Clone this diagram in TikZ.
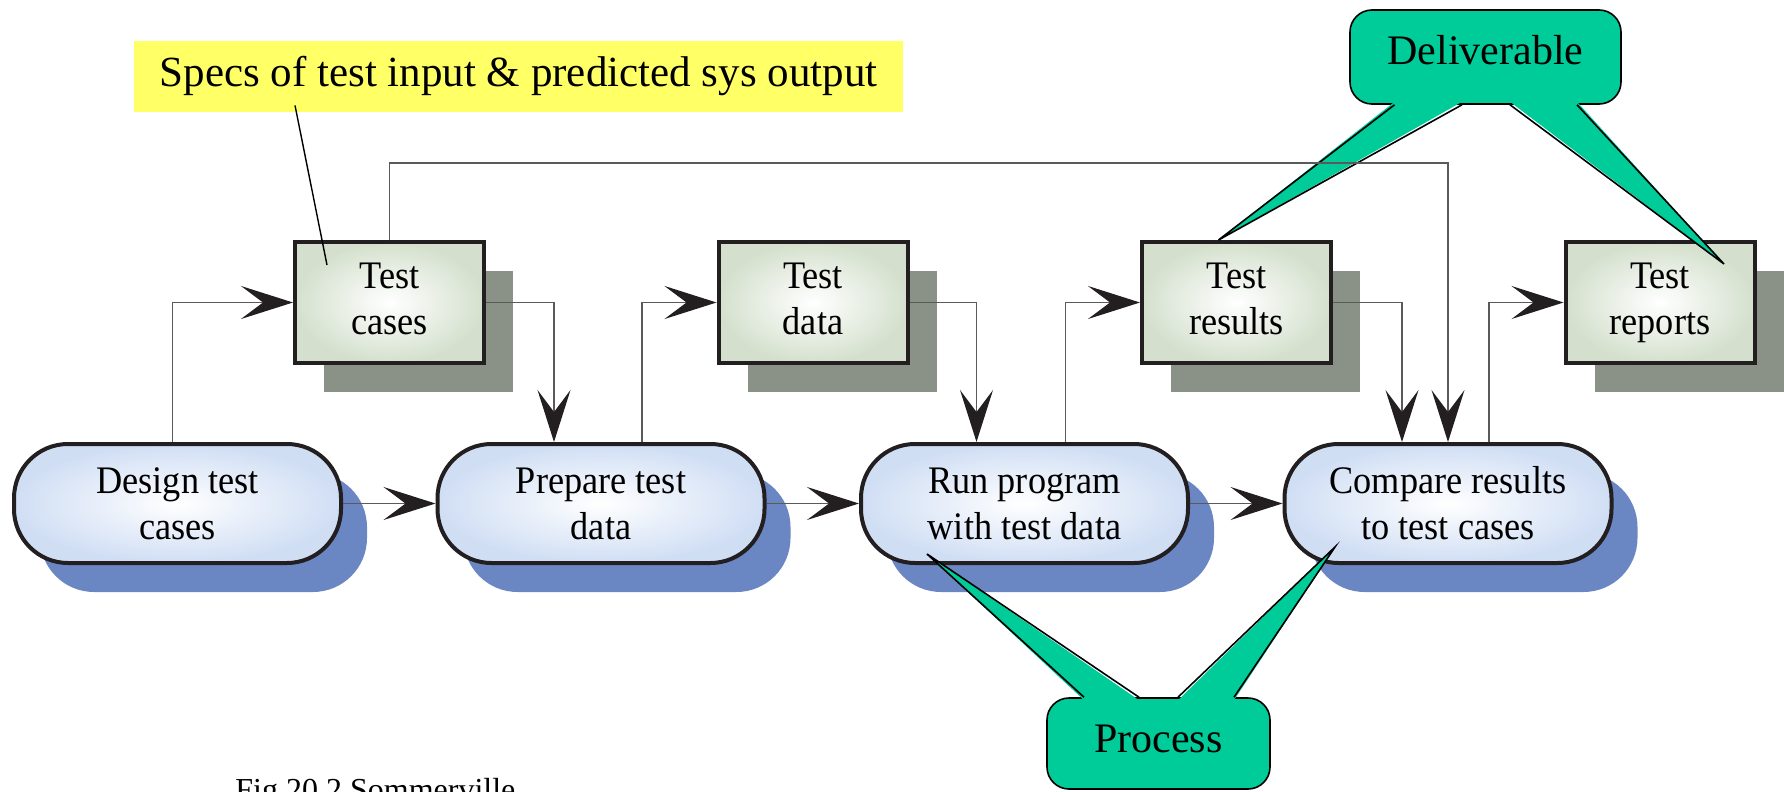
\documentclass[tikz,border=0pt]{standalone}
\usepackage{fontspec}
\setmainfont{Liberation Serif}
\newfontfamily\narrowserif[FakeStretch=0.93]{Liberation Serif}
\usetikzlibrary{arrows.meta,calc,shadows}
\definecolor{inkblack}{RGB}{35,31,32}
\definecolor{pillblue}{RGB}{208,222,244}
\definecolor{shadowblue}{RGB}{106,135,196}
\definecolor{docgreen}{RGB}{212,224,205}
\definecolor{docshadow}{RGB}{138,146,136}
\definecolor{callgreen}{RGB}{0,204,153}
\definecolor{specyellow}{RGB}{255,255,102}
\definecolor{wiregray}{RGB}{90,90,90}
\newcommand{\boxfont}{\narrowserif\fontsize{19.5}{23}\selectfont}
\tikzset{
    flow/.style     = {-{Stealth[length=26pt, width=16.5pt, inset=11pt, color=inkblack]},
            draw=wiregray, line width=0.6pt},
    activity/.style = {draw=inkblack, line width=2pt, rounded corners=27pt,
            inner color=white, outer color=pillblue,
            minimum width=163.5pt, minimum height=59.5pt,
            align=center, font=\boxfont,
            drop shadow={shadow xshift=13pt, shadow yshift=-14.5pt, fill=shadowblue, opacity=1}},
    artefact/.style = {draw=inkblack, line width=2pt,
            inner color=white, outer color=docgreen,
            minimum width=94.5pt, minimum height=60.5pt,
            align=center, font=\boxfont,
            execute at end node={\vphantom{p}},
            drop shadow={shadow xshift=14.5pt, shadow yshift=-14.5pt, fill=docshadow, opacity=1}},
    bubble/.style   = {draw=black, line width=0.8pt, fill=callgreen, rounded corners=11pt,
            font=\fontsize{21}{25}\selectfont},
    calledge/.style = {draw=black, line width=0.8pt},
}
\newcommand{\CallTail}[4]{% base a, base b, tip, shift into the bubble
    \fill[callgreen] ($(#1)+(#4)$) -- (#3) -- ($(#2)+(#4)$) -- cycle;
    \draw[calledge] (#1) -- (#3) -- (#2);
}

\begin{document}
\begin{tikzpicture}[x=0.5pt, y=-0.5pt]
    \useasboundingbox (0,0) rectangle (1784,792);
    \clip (0,0) rectangle (1784,792);

    % process steps
    \node[activity] (design) at (177.5,503.5) {Design test\\cases};
    \node[activity] (prep)   at (601,503.5)   {Prepare test\\data};
    \node[activity] (run)    at (1024.5,503.5) {Run program\\with test data};
    \node[activity] (comp)   at (1448,503.5)  {Compare results\\to test cases};

    % deliverables
    \node[artefact] (tcases)   at (389.5,302.5) {Test\\cases};
    \node[artefact] (tdata)    at (813,302.5)   {Test\\data};
    \node[artefact] (tresults) at (1236.5,302.5) {Test\\results};
    \node[artefact] (treports) at (1660,302.5)  {Test\\reports};

    % main chain
    \draw[flow] (design.east) -- (prep.west);
    \draw[flow] (prep.east) -- (run.west);
    \draw[flow] (run.east) -- (comp.west);

    % up to the deliverables and back down
    \draw[flow] ([xshift=-2.5pt]design.north) |- (tcases.west);
    \draw[flow] (tcases.east) -| ([xshift=-23.5pt]prep.north);
    \draw[flow] ([xshift=20.5pt]prep.north) |- (tdata.west);
    \draw[flow] (tdata.east) -| ([xshift=-24pt]run.north);
    \draw[flow] ([xshift=20.5pt]run.north) |- (tresults.west);
    \draw[flow] (tresults.east) -| ([xshift=-23pt]comp.north);
    \draw[flow] ([xshift=20.5pt]comp.north) |- (treports.west);

    % yellow note on the test cases
    \node[fill=specyellow, minimum width=384.5pt, minimum height=35.5pt,
          font=\fontsize{21.5}{25}\selectfont] (specs) at (518.5,76.5)
          {Specs of test input \& predicted sys output};
    \draw[black, line width=0.7pt] ($(specs.south)+(-223.5,-7)$) -- ($(tcases.north west)+(34,25)$);

    % callout: deliverable
    \node[bubble, minimum width=135.5pt, minimum height=47pt, text depth=7pt] (deliv) at (1485.5,57) {Deliverable};
    \coordinate (dA1) at ($(deliv.south)+(-91,0)$);
    \coordinate (dA2) at ($(deliv.south)+(-23.5,0)$);
    \coordinate (dB1) at ($(deliv.south)+(24.5,0)$);
    \coordinate (dB2) at ($(deliv.south)+(91.5,0)$);
    \coordinate (dTipA) at ($(tresults.north)+(-18,0)$);
    \coordinate (dTipB) at ($(treports.north)+(64,24)$);
    \CallTail{dA1}{dA2}{dTipA}{0,-3}
    \CallTail{dB1}{dB2}{dTipB}{0,-3}

    % callout: process
    \node[bubble, minimum width=111.5pt, minimum height=45.5pt, text depth=5pt] (proc) at (1158.5,743.5) {Process};
    \coordinate (pA1) at ($(proc.north)+(-74.5,0)$);
    \coordinate (pA2) at ($(proc.north)+(-19.5,0)$);
    \coordinate (pB1) at ($(proc.north)+(19.5,0)$);
    \coordinate (pB2) at ($(proc.north)+(75.5,0)$);
    \coordinate (pTipA) at ($(run.south)+(-97.5,-11)$);
    \coordinate (pTipB) at ($(comp.south)+(-113,-18)$);
    \CallTail{pA1}{pA2}{pTipA}{0,3}
    \CallTail{pB1}{pB2}{pTipB}{0,3}

    % long loop: test cases feed the comparison
    \coordinate (looptop) at (0,163);
    \draw[flow] (tcases.north) |- (looptop -| comp.north) -- (comp.north);

    \node[anchor=base west, inner sep=0pt, font=\fontsize{16}{19}\selectfont] (fig) at (235,800)
          {Fig 20.2 Sommerville};
\end{tikzpicture}
\end{document}
